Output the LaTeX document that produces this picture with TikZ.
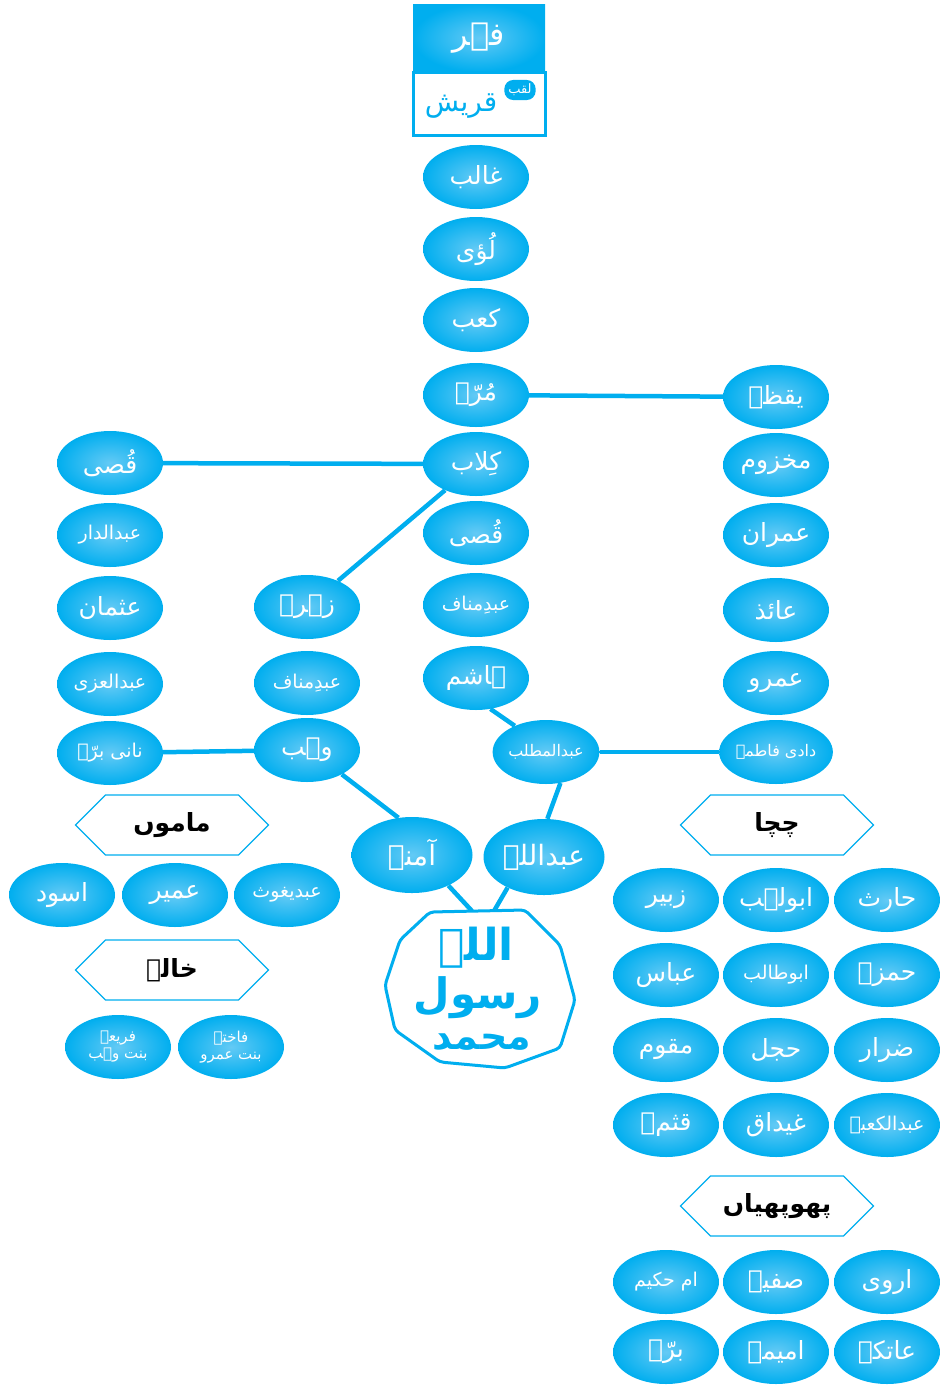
\documentclass[tikz,border=0pt]{standalone}
\usepackage{fontspec}
\newfontfamily\arabicfont[Script=Arabic]{DejaVu Sans}
\TeXXeTstate=1
\usetikzlibrary{shapes.geometric,shapes.symbols}
\definecolor{seablue}{RGB}{0,174,239}
\definecolor{paleblue}{RGB}{100,202,245}
\newcommand{\ur}[1]{{\arabicfont\beginR #1\endR}}
\tikzset{
  person/.style={ellipse, minimum width=106pt, minimum height=64pt,
    inner color=paleblue, outer color=seablue, text=white, inner sep=0pt,
    font=\fontsize{25}{27}\selectfont},
  longname/.style={font=\fontsize{19}{21}\selectfont},
  longername/.style={font=\fontsize{16}{18}\selectfont},
  bigperson/.style={person, minimum width=121pt, minimum height=76pt,
    font=\fontsize{28}{30}\selectfont},
  smallperson/.style={person, align=center, font=\fontsize{15}{17}\selectfont},
  relation/.style={signal, signal to=east and west, draw=seablue,
    line width=1.2pt, fill=white, minimum width=193pt, minimum height=60pt,
    font=\bfseries\fontsize{25}{27}\selectfont},
  link/.style={seablue, line width=4.5pt},
}
\begin{document}
\begin{tikzpicture}[x=1pt,y=-1pt]
  \useasboundingbox (0,0) rectangle (940,1385);
  % top box
  \node[rectangle, minimum width=132pt, minimum height=68pt, inner color=paleblue,
    outer color=seablue, text=white, font=\fontsize{32}{34}\selectfont] (fihr) at (479,38) {\ur{فہر}};
  \node[rectangle, draw=seablue, line width=3pt, fill=white, minimum width=132pt,
    minimum height=63pt] (quraishbox) at (479,104) {};
  \node[text=seablue, font=\fontsize{28}{30}\selectfont] (quraish) at (461,106) {\ur{قریش}};
  \node[rectangle, rounded corners=9pt, fill=seablue, text=white, inner sep=4pt,
    font=\fontsize{13}{14}\selectfont] (laqab) at (520,90) {\ur{لقب}};
  % main line
  \node[person] (ghalib) at (476,177) {\ur{غالب}};
  \node[person] (luayy) at (476,249) {\ur{لُؤی}};
  \node[person] (kaab) at (476,320) {\ur{کعب}};
  \node[person] (murra) at (476,395) {\ur{مُرّہ}};
  \node[person] (kilab) at (476,464) {\ur{کِلاب}};
  \node[person] (qusayy) at (476,533) {\ur{قُصی}};
  \node[person, longname] (abdmanaf) at (476,605) {\ur{عبدِمناف}};
  \node[person] (hashim) at (476,678) {\ur{ہاشم}};
  \node[person, longername] (muttalib) at (546,752) {\ur{عبدالمطلب}};
  \node[bigperson] (abdullah) at (544,857) {\ur{عبداللہ}};
  \node[bigperson] (amina) at (412,855) {\ur{آمنہ}};
  % mother's side
  \node[person] (zuhra) at (307,607) {\ur{زہرہ}};
  \node[person, longname] (abdmanafz) at (307,683) {\ur{عبدِمناف}};
  \node[person] (wahb) at (307,750) {\ur{وہب}};
  \node[person] (qusayyl) at (110,463) {\ur{قُصی}};
  \node[person, longname] (abddar) at (110,535) {\ur{عبدالدار}};
  \node[person] (uthman) at (110,608) {\ur{عثمان}};
  \node[person, longname] (abduzza) at (110,684) {\ur{عبدالعزی}};
  \node[person, longname] (barra) at (110,753) {\ur{نانی برّہ}};
  % grandmother's side
  \node[person] (yaqaza) at (776,397) {\ur{یقظہ}};
  \node[person] (makhzum) at (776,465) {\ur{مخزوم}};
  \node[person] (imran) at (776,535) {\ur{عمران}};
  \node[person] (aidh) at (776,610) {\ur{عائذ}};
  \node[person] (amr) at (776,683) {\ur{عمرو}};
  \node[person, longername] (fatima) at (776,752) {\ur{دادی فاطمہ}};
  % links
  \draw[link] (murra) -- (yaqaza);
  \draw[link] (kilab) -- (qusayyl);
  \draw[link] (kilab) -- (zuhra);
  \draw[link] (wahb) -- (barra);
  \draw[link] (wahb.-35) -- (amina.110);
  \draw[link] (hashim.-65) -- (muttalib.140);
  \draw[link] (muttalib) -- (fatima);
  \draw[link] (muttalib.-65) -- (abdullah.85);
  % seal
  \coordinate (sealleft) at (472,911);
  \coordinate (sealright) at (494,911);
  \draw[link] (amina.-40) -- (sealleft);
  \draw[link] (abdullah.-140) -- (sealright);
  \draw[seablue, line width=3pt, rounded corners=4pt, fill=white]
    (430,912) -- (525,910) -- (560,945) -- (575,1000) -- (560,1048) -- (505,1068)
    -- (440,1062) -- (395,1030) -- (385,985) -- (400,940) -- cycle;
  \node[text=seablue, font=\bfseries\fontsize{44}{46}\selectfont] (allah) at (476,948) {\ur{اللہ}};
  \node[text=seablue, font=\bfseries\fontsize{42}{44}\selectfont] (rasul) at (478,998) {\ur{رسول}};
  \node[text=seablue, font=\bfseries\fontsize{38}{40}\selectfont] (muhammad) at (482,1042) {\ur{محمد}};
  % uncles (mother's side)
  \node[relation] (mamun) at (172,825) {\ur{ماموں}};
  \node[person] (aswad) at (62,895) {\ur{اسود}};
  \node[person] (umair) at (175,895) {\ur{عمیر}};
  \node[person, longname] (abdyaghuth) at (287,895) {\ur{عبدیغوث}};
  \node[relation] (khala) at (172,970) {\ur{خالہ}};
  \node[smallperson] (furaia) at (118,1047) {\ur{فریعہ}\\\ur{بنت وہب}};
  \node[smallperson] (fakhita) at (231,1047) {\ur{فاختہ}\\\ur{بنت عمرو}};
  % uncles (father's side)
  \node[relation] (chacha) at (777,825) {\ur{چچا}};
  \node[person] (zubair) at (666,900) {\ur{زبیر}};
  \node[person] (abulahab) at (776,900) {\ur{ابولہب}};
  \node[person] (harith) at (887,900) {\ur{حارث}};
  \node[person] (abbas) at (666,975) {\ur{عباس}};
  \node[person, longname] (abutalib) at (776,975) {\ur{ابوطالب}};
  \node[person] (hamza) at (887,975) {\ur{حمزہ}};
  \node[person] (muqawwim) at (666,1050) {\ur{مقوم}};
  \node[person] (hajl) at (776,1050) {\ur{حجل}};
  \node[person] (dirar) at (887,1050) {\ur{ضرار}};
  \node[person] (qutham) at (666,1125) {\ur{قثمؓ}};
  \node[person] (ghaidaq) at (776,1125) {\ur{غیداق}};
  \node[person, longname] (abdkaaba) at (887,1125) {\ur{عبدالکعبہ}};
  % aunts (father's side)
  \node[relation] (phuphiyan) at (777,1206) {\ur{پھوپھیاں}};
  \node[person, longname] (ummhakim) at (666,1282) {\ur{ام حکیم}};
  \node[person] (safiyya) at (776,1282) {\ur{صفیہ}};
  \node[person] (arwa) at (887,1282) {\ur{اروی}};
  \node[person] (barraa) at (666,1352) {\ur{برّہ}};
  \node[person] (umaima) at (776,1352) {\ur{امیمہ}};
  \node[person] (atika) at (887,1352) {\ur{عاتکہ}};
\end{tikzpicture}
\end{document}
